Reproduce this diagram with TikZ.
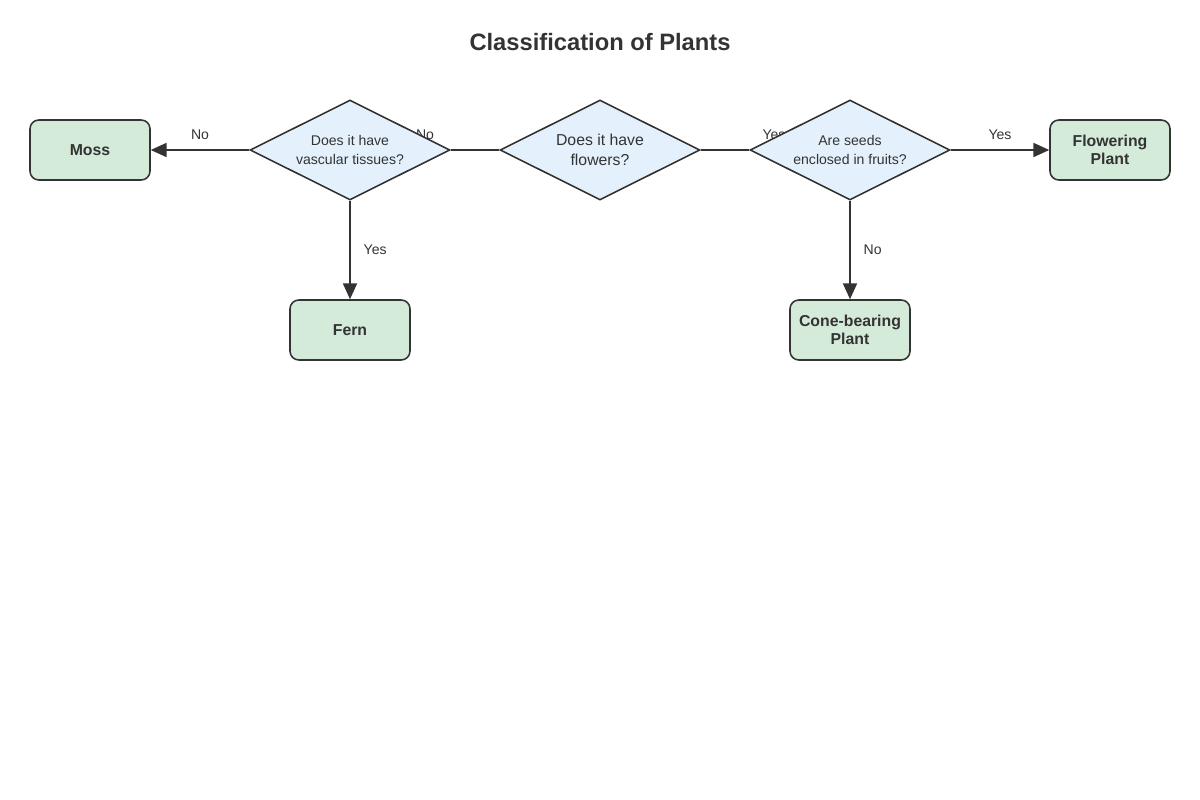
\documentclass[tikz,border=0pt]{standalone}
\usepackage{fontspec}
\setmainfont{Liberation Sans}
\usetikzlibrary{positioning, arrows.meta, shapes.geometric, backgrounds}
\definecolor{leafgreen}{HTML}{D5EBD9}
\definecolor{askblue}{HTML}{E4F1FD}
\definecolor{inkgray}{HTML}{333333}

\begin{document}
\begin{tikzpicture}[x=0.02cm, y=-0.02cm,
        leaf/.style={rectangle, rounded corners=5pt, draw=inkgray, line width=0.9pt, fill=leafgreen, text=inkgray, minimum width=2.4cm, minimum height=1.2cm, align=center, font=\fontsize{9}{10.5}\selectfont\bfseries, inner sep=1pt},
        ask/.style={diamond, draw=inkgray, line width=0.9pt, fill=askblue, text=inkgray, minimum width=4cm, minimum height=2cm, aspect=2, inner sep=0pt, align=center},
        small/.style={font=\fontsize{8}{11}\selectfont},
        arrow/.style={-{Triangle[length=9pt, width=8pt]}, line width=0.9pt, inkgray},
        link/.style={line width=0.9pt, inkgray},
        label/.style={text=inkgray, font=\fontsize{8}{9}\selectfont}
    ]
    \useasboundingbox (0,0) rectangle (1200,800);
    \node[text=inkgray, font=\fontsize{13.5}{15}\selectfont\bfseries] (title) at (600,42) {Classification of Plants};

    % questions
    \node[ask, small] (vascular) at (350,150) {Does it have\\vascular tissues?};
    \node[ask, font=\fontsize{9}{11.5}\selectfont] (flowers) at (600,150) {Does it have\\flowers?};
    \node[ask, small] (fruits) at (850,150) {Are seeds\\enclosed in fruits?};

    % answers
    \node[leaf] (moss) at (90,150) {Moss};
    \node[leaf] (fern) at (350,330) {Fern};
    \node[leaf] (cone) at (850,330) {Cone-bearing\\Plant};
    \node[leaf] (flowering) at (1110,150) {Flowering\\Plant};

    \begin{pgfonlayer}{background}
    \draw[link] (flowers) -- (vascular);
    \node[label] at (425,135) {No};
    \draw[link] (flowers) -- (fruits);
    \node[label] at (774,135) {Yes};
    \end{pgfonlayer}

    \draw[arrow] (vascular) -- node[label, pos=0.5, above=2pt] {No} (moss);
    \draw[arrow] (vascular) -- node[label, right=4pt] {Yes} (fern);
    \draw[arrow] (fruits) -- node[label, pos=0.5, above=2pt] {Yes} (flowering);
    \draw[arrow] (fruits) -- node[label, right=4pt] {No} (cone);
\end{tikzpicture}
\end{document}
